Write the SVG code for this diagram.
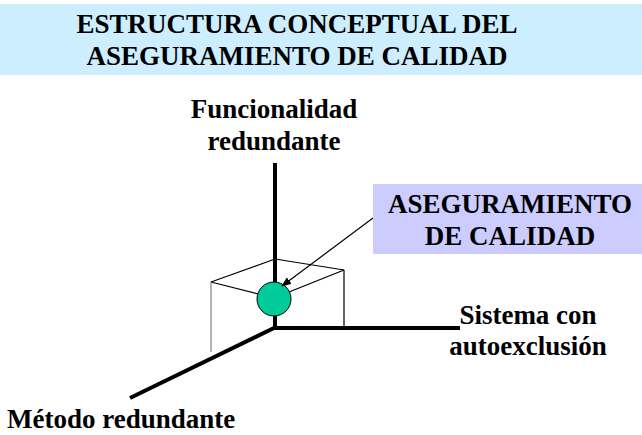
<svg xmlns="http://www.w3.org/2000/svg" width="642" height="435" viewBox="0 0 642 435">
<style>
text{font-family:"Liberation Serif","Times New Roman",serif;font-weight:bold;font-size:27px;fill:#000}
.axis{stroke:#000;stroke-width:4;fill:none}
.thin{stroke:#000;stroke-width:1.2;fill:none}
</style>
<defs>
<marker id="ah" markerWidth="10" markerHeight="8" refX="9" refY="4" orient="auto" markerUnits="userSpaceOnUse">
<path d="M0,0 L10,4 L0,8 z" fill="#000"/>
</marker>
</defs>
<rect width="642" height="435" fill="#fff"/>
<g id="title">
<rect x="0" y="4" width="642" height="71" fill="#CCEEFF"/>
<text x="297" y="33" text-anchor="middle">ESTRUCTURA CONCEPTUAL DEL</text>
<text x="297" y="65" text-anchor="middle">ASEGURAMIENTO DE CALIDAD</text>
</g>
<g id="connectors">
<line class="axis" x1="275" y1="163" x2="275" y2="328"/>
<line class="axis" x1="273" y1="328" x2="460" y2="328"/>
<line class="axis" x1="276" y1="327" x2="130" y2="398"/>
<line class="thin" x1="275" y1="259" x2="211" y2="282"/>
<line class="thin" x1="275" y1="259" x2="344" y2="270"/>
<line class="thin" x1="211" y1="282" x2="274" y2="298"/>
<line class="thin" x1="344" y1="270" x2="274" y2="298"/>
<line class="thin" x1="344" y1="270" x2="344" y2="328"/>
<line x1="211" y1="282" x2="211" y2="352" stroke="#808080" stroke-width="1.2"/>
</g>
<g id="node-point">
<circle cx="274" cy="299" r="17" fill="#00CC99" stroke="#000" stroke-width="1"/>
</g>
<g id="arrow">
<line class="thin" x1="373" y1="218" x2="282" y2="286" marker-end="url(#ah)"/>
</g>
<g id="node-aseguramiento">
<rect x="373" y="184" width="269" height="70" fill="#CCCCFF"/>
<text x="510" y="213" text-anchor="middle">ASEGURAMIENTO</text>
<text x="510" y="245" text-anchor="middle">DE CALIDAD</text>
</g>
<g id="node-funcionalidad">
<text x="274" y="118" text-anchor="middle">Funcionalidad</text>
<text x="274" y="150" text-anchor="middle">redundante</text>
</g>
<g id="node-sistema">
<text x="528" y="324" text-anchor="middle">Sistema con</text>
<text x="528" y="355" text-anchor="middle">autoexclusión</text>
</g>
<g id="node-metodo">
<text x="7" y="428">Método redundante</text>
</g>
</svg>
